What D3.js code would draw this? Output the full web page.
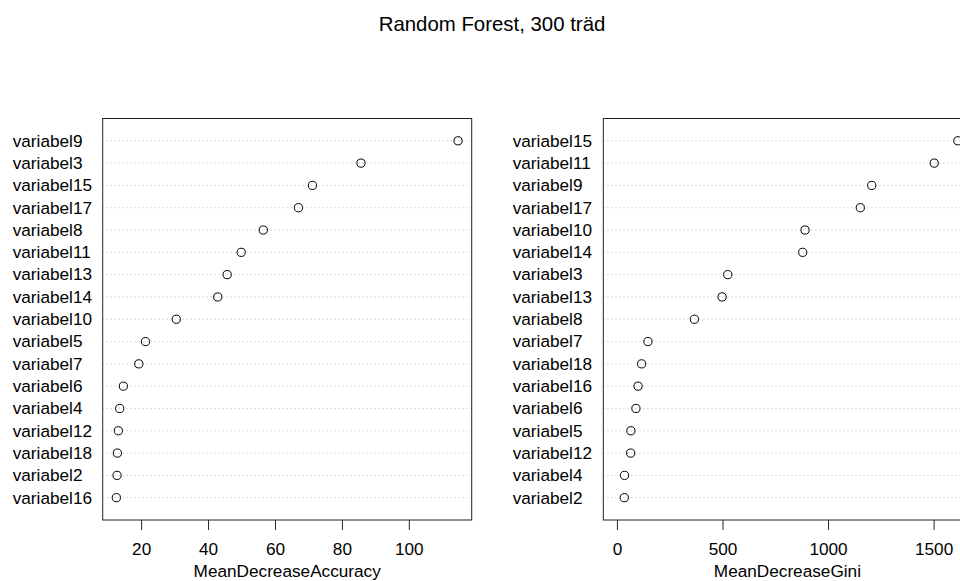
<!DOCTYPE html>
<html>
<head>
<meta charset="utf-8">
<script src="https://cdn.jsdelivr.net/npm/d3@7"></script>
<style>
  html, body { margin: 0; padding: 0; background: #fff; }
  svg { display: block; font-family: "Liberation Sans", Arial, Helvetica, sans-serif; }
</style>
</head>
<body>
<svg id="chart" width="960" height="581"></svg>
<script>
// ---- Data ----
const titleText = "Random Forest, 300 träd";

const accLabels = ["variabel9","variabel3","variabel15","variabel17","variabel8","variabel11","variabel13","variabel14","variabel10","variabel5","variabel7","variabel6","variabel4","variabel12","variabel18","variabel2","variabel16"];
const accValues = [114.7, 85.7, 71.2, 67.0, 56.5, 49.9, 45.7, 42.9, 30.5, 21.3, 19.3, 14.7, 13.6, 13.2, 12.9, 12.8, 12.6];
const accTicks = [20, 40, 60, 80, 100];
const accTitle = "MeanDecreaseAccuracy";

const giniLabels = ["variabel15","variabel11","variabel9","variabel17","variabel10","variabel14","variabel3","variabel13","variabel8","variabel7","variabel18","variabel16","variabel6","variabel5","variabel12","variabel4","variabel2"];
const giniValues = [1615, 1503, 1207, 1153, 891, 880, 525, 498, 367, 147, 117, 100, 90, 66, 65, 36, 35];
const giniTicks = [0, 500, 1000, 1500];
const giniTitle = "MeanDecreaseGini";

// ---- Drawing ----
const svg = d3.select("#chart");
const FS = 17.2;

svg.append("text")
  .attr("x", 492).attr("y", 31)
  .attr("text-anchor", "middle")
  .attr("font-size", 20.4)
  .attr("fill", "#000")
  .text(titleText);

const boxTop = 118.5, boxBottom = 520;

function panel(opts) {
  const { labels, values, ticks, title, left, right, labelX, xmin } = opts;
  const n = labels.length;
  const lo = xmin !== undefined ? xmin : d3.min(values);
  const hi = d3.max(values);
  const ext = (hi - lo) * 0.04;
  const x = d3.scaleLinear().domain([lo - ext, hi + ext]).range([left, right]);
  const y = d3.scaleLinear().domain([0, n + 1]).range([boxBottom, boxTop]);
  const rowPos = (i) => y(n - i);

  const g = svg.append("g");

  g.selectAll("line.grid").data(values).enter().append("line")
    .attr("class", "grid")
    .attr("x1", left).attr("x2", right)
    .attr("y1", (d, i) => rowPos(i)).attr("y2", (d, i) => rowPos(i))
    .attr("stroke", "#bebebe").attr("stroke-width", 1)
    .attr("stroke-dasharray", "1,3");

  g.selectAll("circle").data(values).enter().append("circle")
    .attr("cx", d => x(d)).attr("cy", (d, i) => rowPos(i))
    .attr("r", 4.1)
    .attr("fill", "none").attr("stroke", "#000").attr("stroke-width", 1);

  g.selectAll("text.lab").data(labels).enter().append("text")
    .attr("class", "lab")
    .attr("x", labelX).attr("y", (d, i) => rowPos(i))
    .attr("dy", "0.34em")
    .attr("font-size", FS).attr("fill", "#000")
    .text(d => d);

  g.append("rect")
    .attr("x", left).attr("y", boxTop)
    .attr("width", right - left).attr("height", boxBottom - boxTop)
    .attr("fill", "none").attr("stroke", "#222").attr("stroke-width", 1);

  const axis = d3.axisBottom(x).tickValues(ticks).tickSize(10).tickSizeOuter(0)
    .tickFormat(d3.format("d"));
  const ag = g.append("g").attr("transform", `translate(0,${boxBottom})`).call(axis);
  ag.select(".domain").remove();
  ag.selectAll(".tick line").attr("stroke", "#222");
  ag.selectAll(".tick text")
    .attr("y", 35).attr("dy", 0)
    .attr("font-size", FS)
    .attr("font-family", "Liberation Sans, Arial, sans-serif")
    .attr("fill", "#000");

  g.append("text")
    .attr("x", (left + right) / 2).attr("y", 577)
    .attr("text-anchor", "middle")
    .attr("font-size", FS).attr("fill", "#000")
    .text(title);
}

panel({ labels: accLabels, values: accValues, ticks: accTicks, title: accTitle,
        left: 102.7, right: 471.7, labelX: 12.7 });
panel({ labels: giniLabels, values: giniValues, ticks: giniTicks, title: giniTitle,
        left: 603.3, right: 971.5, labelX: 512.7, xmin: 0 });
</script>
</body>
</html>
